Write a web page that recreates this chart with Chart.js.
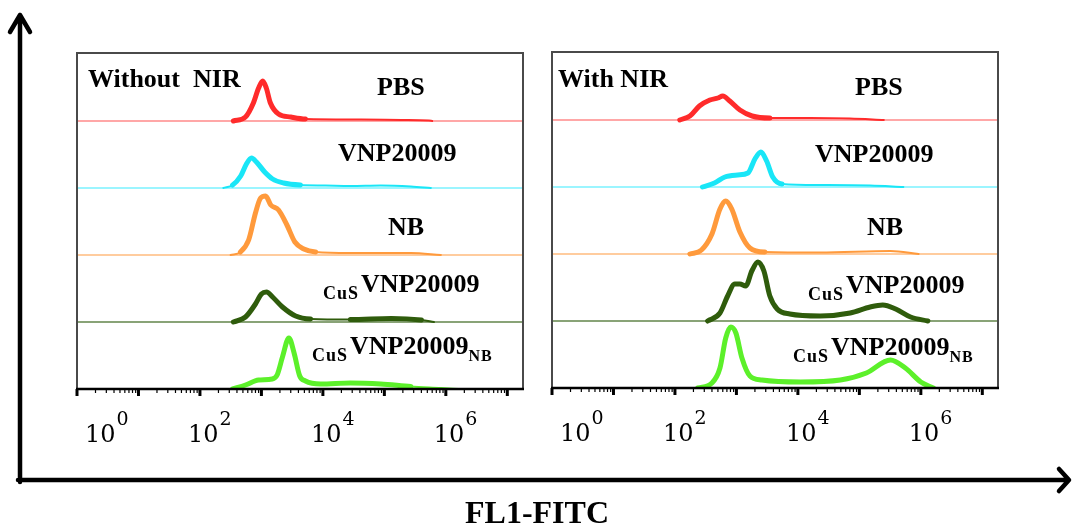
<!DOCTYPE html>
<html>
<head>
<meta charset="utf-8">
<script src="https://cdn.jsdelivr.net/npm/chart.js@4.4.1/dist/chart.umd.min.js"></script>
<style>
  html, body { margin: 0; padding: 0; background: #fff; }
  #wrap { position: relative; width: 1073px; height: 526px; }
  #wrap canvas { position: absolute; left: 0; top: 0; }
</style>
</head>
<body>
<div id="wrap">
  <canvas id="chart-off" width="1073" height="526"></canvas>
  <canvas id="chart-on" width="1073" height="526"></canvas>
</div>
<script>
/* FL1-FITC histograms, one lane per sample, stacked top to bottom */

const sampleColors = ['#ff2b2b', '#19e6f7', '#ff9a3c', '#2f5c0c', '#5cf02a'];
const baseColors   = ['#ff8a8a', '#7af2ff', '#ffbb7e', '#62844a', '#92f26c'];
const laneOffsets  = [268, 201, 134, 67, 0];   // count offset of each lane
const tickExponents = [0, 2, 4, 6];
const X_MIN = 1, X_MAX = 1.8e7, Y_MAX = 336;

// Without NIR — FL1 intensity / count
const offPbsX   = [350, 550, 740, 900, 1050, 1200, 1400, 1900, 3000, 5200, 42000, 190000, 530000, 600000];
const offPbsY   = [0, 4, 18, 33, 40, 33, 18, 7, 4, 2, 1.5, 1, 0.5, 0];
const offVnpX   = [240, 340, 460, 570, 690, 830, 1130, 1520, 2300, 4300, 11000, 28000, 87000, 270000, 570000];
const offVnpY   = [0, 3, 12, 24, 30, 26, 16, 9, 5, 3, 2.5, 2, 2.5, 1.5, 0];
const offNbX    = [315, 455, 620, 800, 970, 1170, 1420, 1900, 2600, 3500, 4900, 7600, 28000, 270000, 830000];
const offNbY    = [0, 3, 15, 42, 57, 59, 50, 45, 30, 13, 6, 3, 2, 2, 0];
const offCusX   = [350, 550, 800, 1000, 1210, 1520, 2200, 3600, 6300, 28000, 130000, 400000, 640000];
const offCusY   = [0, 5, 18, 28, 30, 25, 15, 6, 3, 2.5, 3.5, 2, 0];
const offCusNbX = [340, 550, 900, 1500, 1800, 2200, 2800, 3400, 4200, 5200, 9200, 28000, 87000, 270000, 830000, 1600000];
const offCusNbY = [0, 4, 9, 10, 14, 32, 51, 36, 13, 8, 5, 6, 5, 2.5, 1, 0];

// With NIR — FL1 intensity / count
const onPbsX   = [120, 175, 250, 370, 500, 600, 780, 1140, 1800, 3500, 16000, 70000, 250000];
const onPbsY   = [0, 4, 14, 20, 22, 24, 19, 10, 4, 2, 2, 1.5, 0];
const onVnpX   = [280, 440, 650, 1050, 1540, 2000, 2500, 3100, 3900, 5500, 23000, 150000, 520000];
const onVnpY   = [0, 4, 10, 12, 14, 28, 35, 26, 10, 3, 2, 1.5, 0];
const onNbX    = [175, 270, 400, 540, 670, 840, 1140, 1660, 2900, 23000, 320000, 920000];
const onNbY    = [0, 4, 20, 45, 53, 45, 22, 6, 2, 1.5, 3, 0];
const onCusX   = [340, 540, 720, 940, 1140, 1420, 1780, 2240, 2800, 3500, 4600, 7400, 23000, 71000, 150000, 240000, 390000, 680000, 1300000];
const onCusY   = [0, 8, 25, 37, 37, 35, 50, 59, 50, 25, 12, 7, 5, 8, 14, 16, 12, 4, 0];
const onCusNbX = [235, 400, 540, 670, 810, 980, 1230, 1660, 2600, 11000, 49000, 130000, 320000, 560000, 1000000, 1600000];
const onCusNbY = [0, 5, 20, 50, 61, 55, 30, 12, 8, 6, 8, 15, 28, 20, 6, 0];

// sample names as text runs (sub = small lowered text)
const sampleRuns = [
  [{ t: 'PBS' }],
  [{ t: 'VNP20009' }],
  [{ t: 'NB' }],
  [{ t: 'CuS', sub: 18 }, { t: 'VNP20009' }],
  [{ t: 'CuS', sub: 18 }, { t: 'VNP20009' }, { t: 'NB', sub: 16 }]
];
// left x / baseline y of each sample name
const offLabelPos = [[377, 95], [338, 161], [388, 235], [323, 292], [312, 354]];
const onLabelPos  = [[855, 95], [815, 162], [867, 235], [808, 293], [793, 355]];

function laneDatasets(traces) {
  const sets = [];
  traces.forEach(([xs, ys], i) => {
    const off = laneOffsets[i];
    sets.push({
      data: xs.map((x, k) => ({ x: x, y: off + ys[k] })),
      borderColor: sampleColors[i],
      borderWidth: 5,
      segment: {
        borderWidth: c => (c.p0.parsed.y - off < 3.1 && c.p1.parsed.y - off < 3.1) ? 2 : 5
      },
      cubicInterpolationMode: 'monotone',
      borderCapStyle: 'round',
      borderJoinStyle: 'round',
      pointRadius: 0,
      order: 0
    });
    sets.push({
      data: [{ x: X_MIN, y: off }, { x: X_MAX, y: off }],
      borderColor: baseColors[i],
      borderWidth: 1.5,
      pointRadius: 0,
      order: 1
    });
  });
  return sets;
}

function drawRuns(ctx, runs, x, y) {
  runs.forEach(r => {
    const size = r.sub || 26;
    ctx.font = 'bold ' + size + 'px "Liberation Serif"';
    ctx.letterSpacing = r.sub ? '1px' : '0px';
    const yy = r.sub ? y + 7 : y;
    ctx.fillText(r.t, x, yy);
    x += ctx.measureText(r.t).width + (r.sub ? 2 : 0);
  });
  ctx.letterSpacing = '0px';
}

const panelDecor = {
  id: 'panelDecor',
  afterDatasetsDraw(chart, args, opts) {
    const { ctx, chartArea: a } = chart;
    const xs = chart.scales.x;
    ctx.save();
    // frame
    ctx.strokeStyle = '#4a4a4a';
    ctx.lineWidth = 2;
    ctx.beginPath();
    ctx.moveTo(a.left, a.bottom);
    ctx.lineTo(a.left, a.top);
    ctx.lineTo(a.right, a.top);
    ctx.lineTo(a.right, a.bottom);
    ctx.stroke();
    ctx.strokeStyle = '#000';
    ctx.lineWidth = 2.5;
    ctx.beginPath();
    ctx.moveTo(a.left - 1, a.bottom);
    ctx.lineTo(a.right + 1, a.bottom);
    ctx.stroke();

    // log ticks
    for (let e = 0; e <= 7; e++) {
      for (let m = 1; m <= 9; m++) {
        const v = m * Math.pow(10, e);
        if (v > X_MAX) break;
        const px = xs.getPixelForValue(v);
        ctx.lineWidth = m === 1 ? 3 : 1.2;
        ctx.beginPath();
        ctx.moveTo(px, a.bottom);
        ctx.lineTo(px, a.bottom + (m === 1 ? 7 : 4));
        ctx.stroke();
      }
    }

    // decade labels
    ctx.fillStyle = '#000';
    ctx.textBaseline = 'alphabetic';
    ctx.textAlign = 'left';
    tickExponents.forEach(e => {
      const px = xs.getPixelForValue(Math.pow(10, e));
      const lx = Math.max(px - 12, a.left + 8);
      const by = a.bottom + 53;
      ctx.font = '24px "DejaVu Serif"';
      ctx.fillText('10', lx, by);
      const w = ctx.measureText('10').width;
      ctx.font = '19px "DejaVu Serif"';
      ctx.fillText(String(e), lx + w + 1, by - 17);
    });

    // panel title and sample names
    ctx.font = 'bold 26px "Liberation Serif"';
    ctx.fillText(opts.title, opts.titlePos[0], opts.titlePos[1]);
    opts.labelPos.forEach((p, i) => drawRuns(ctx, sampleRuns[i], p[0], p[1]));
    ctx.restore();
  },
  afterDraw(chart, args, opts) {
    if (!opts.outerAxes) return;
    const ctx = chart.ctx;
    ctx.save();
    ctx.strokeStyle = '#000';
    ctx.lineWidth = 4.5;
    ctx.lineCap = 'round';
    ctx.lineJoin = 'round';
    ctx.beginPath();
    ctx.moveTo(20, 482);
    ctx.lineTo(20, 15);
    ctx.moveTo(10, 32);
    ctx.lineTo(20, 15);
    ctx.lineTo(30, 32);
    ctx.moveTo(18, 480);
    ctx.lineTo(1068, 480);
    ctx.moveTo(1059, 469);
    ctx.lineTo(1069, 480);
    ctx.lineTo(1059, 491);
    ctx.stroke();
    ctx.fillStyle = '#000';
    ctx.font = 'bold 32px "Liberation Serif"';
    ctx.fillText('FL1-FITC', 465, 523);
    ctx.restore();
  }
};

function makePanel(id, traces, padding, decor) {
  return new Chart(document.getElementById(id), {
    type: 'line',
    data: { datasets: laneDatasets(traces) },
    options: {
      responsive: false,
      animation: false,
      events: [],
      layout: { padding: padding },
      scales: {
        x: { type: 'logarithmic', min: X_MIN, max: X_MAX, display: false },
        y: { type: 'linear', min: 0, max: Y_MAX, display: false }
      },
      plugins: {
        legend: { display: false },
        tooltip: { enabled: false },
        panelDecor: decor
      }
    },
    plugins: [panelDecor]
  });
}

makePanel('chart-off',
  [[offPbsX, offPbsY], [offVnpX, offVnpY], [offNbX, offNbY], [offCusX, offCusY], [offCusNbX, offCusNbY]],
  { left: 77, top: 53, right: 550, bottom: 137 },
  { title: 'Without  NIR', titlePos: [88, 87], labelPos: offLabelPos, outerAxes: true });

makePanel('chart-on',
  [[onPbsX, onPbsY], [onVnpX, onVnpY], [onNbX, onNbY], [onCusX, onCusY], [onCusNbX, onCusNbY]],
  { left: 552, top: 52, right: 75, bottom: 138 },
  { title: 'With NIR', titlePos: [558, 87], labelPos: onLabelPos, outerAxes: false });
</script>
</body>
</html>
